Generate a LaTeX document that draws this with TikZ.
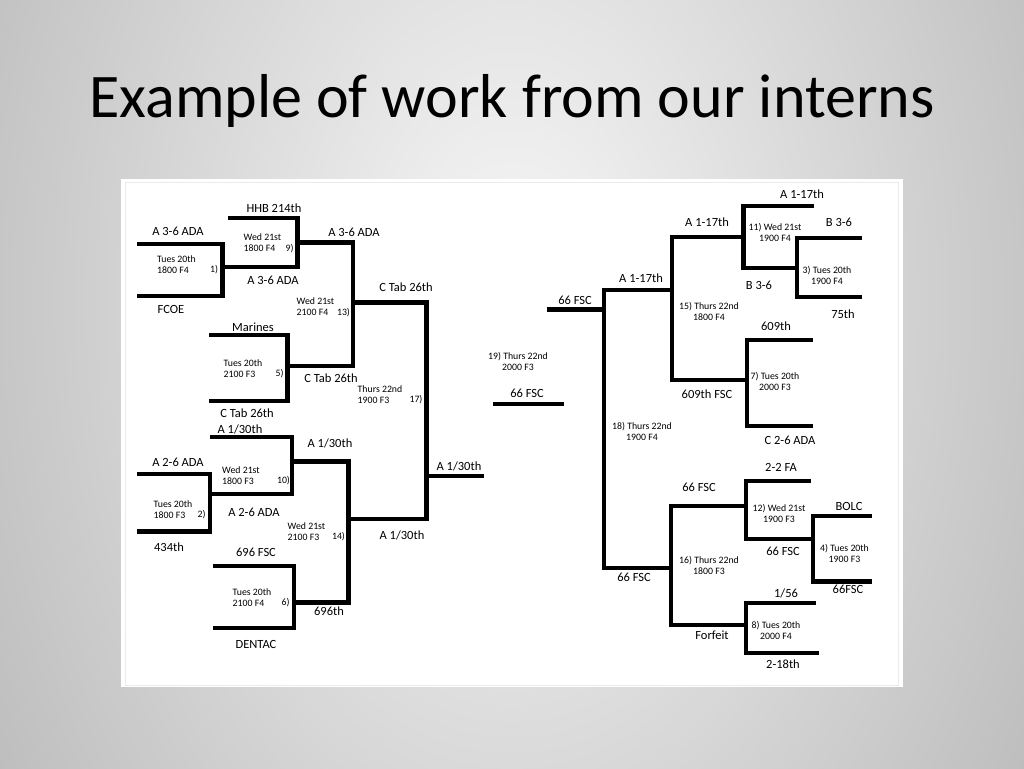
\documentclass[tikz,border=0pt]{standalone}
\usepackage{fontspec}
\setmainfont{Carlito}
\definecolor{bginner}{gray}{0.97}
\definecolor{bgouter}{gray}{0.52}
\pgfdeclareradialshading{slidebg}{\pgfpoint{0bp}{0bp}}{color(0bp)=(bginner); color(50bp)=(bgouter)}

\begin{document}
\begin{tikzpicture}[x=1pt,y=-1pt,bar/.style={line width=4.5pt},team/.style={font=\fontsize{12.5}{15}\selectfont,inner sep=0pt},slot/.style={font=\fontsize{9.8}{11}\selectfont,inner sep=0pt,align=left,anchor=west},slotc/.style={font=\fontsize{9.8}{11}\selectfont,inner sep=0pt,align=center},num/.style={font=\fontsize{9.8}{11}\selectfont,inner sep=0pt}]
 \useasboundingbox (0,0) rectangle (1024,768);
 \fill[bgouter] (0,0) rectangle (1024,768);
 \begin{scope}
  \clip (0,0) rectangle (1024,768);
  \shade[shading=slidebg] (512,300) ellipse (600 and 900);
 \end{scope}
 \node[font=\fontsize{62}{70}\selectfont,anchor=base] (title) at (512,117) {Example of work from our interns};
 \fill[white] (121,179) rectangle (903,687);
 \draw[black!8,line width=.6pt] (125,182) rectangle (898,685);
 % left half
 \draw[bar] (137,244) -| (222.5,296) -- (137,296);
 \draw[bar] (228,218) -| (297.5,267) -- (224,267);
 \draw[bar] (297.5,242.5) -| (353,366) -- (287.5,366);
 \draw[bar] (209,335) -| (287.5,401) -- (209,401);
 \draw[bar] (353,302.5) -| (426.5,519) -- (348.5,519);
 \draw[bar] (426.5,476) -- (484,476);
 \draw[bar] (210,437) -| (292,494) -- (210,494);
 \draw[bar] (137,474) -| (210,531.5) -- (137,531.5);
 \draw[bar] (292,461.5) -| (348.5,602.5) -- (294,602.5);
 \draw[bar] (213,566) -| (294,628) -- (213,628);
 \draw[bar] (493,404) -- (564,404);
 % right half
 \draw[bar] (547,309.5) -- (604,309.5);
 \draw[bar] (672,290) -| (604,568) -- (671,568);
 \draw[bar] (743.5,237) -| (672,380) -- (747,380);
 \draw[bar] (814,206) -| (743.5,268) -- (797,268);
 \draw[bar] (862,238) -| (797,297) -- (862,297);
 \draw[bar] (813,340) -| (747,426) -- (813,426);
 \draw[bar] (745.5,506) -| (671,625) -- (746,625);
 \draw[bar] (811,481) -| (746,539) -- (812,539);
 \draw[bar] (872,516) -| (813,581.5) -- (872,581.5);
 \draw[bar] (816,603) -| (746,653) -- (818.5,653);
 % labels
 \node[team] (ada1) at (178,231) {A 3-6 ADA};
 \node[team] (fcoe) at (171,309) {FCOE};
 \node[slot] (g1) at (157,265) {Tues 20th\\1800 F4};
 \node[num] (n1) at (214,270) {1)};
 \node[team] (hhb) at (274,208) {HHB 214th};
 \node[team] (ada2) at (273,280) {A 3-6 ADA};
 \node[slot] (g9) at (243.5,243) {Wed 21st\\1800 F4};
 \node[num] (n9) at (289.5,249) {9)};
 \node[team] (ada3) at (354,232) {A 3-6 ADA};
 \node[slot] (g13) at (296.5,307) {Wed 21st\\2100 F4};
 \node[num] (n13) at (343.5,312.5) {13)};
 \node[team] (marines) at (253,327) {Marines};
 \node[team] (ctab1) at (247,413) {C Tab 26th};
 \node[slot] (g5) at (223.5,368.5) {Tues 20th\\2100 F3};
 \node[num] (n5) at (279.5,374) {5)};
 \node[team] (ctab2) at (331,378) {C Tab 26th};
 \node[team] (ctab3) at (406,287) {C Tab 26th};
 \node[slot] (g17) at (357.5,394.5) {Thurs 22nd\\1900 F3};
 \node[num] (n17) at (416,400) {17)};
 \node[team] (a130a) at (240,429) {A 1/30th};
 \node[team] (ada4) at (178,462) {A 2-6 ADA};
 \node[slot] (g10) at (222,475.5) {Wed 21st\\1800 F3};
 \node[num] (n10) at (283.5,481) {10)};
 \node[team] (ada5) at (254,512) {A 2-6 ADA};
 \node[slot] (g2) at (153.5,509.5) {Tues 20th\\1800 F3};
 \node[num] (n2) at (201.5,515) {2)};
 \node[team] (t434) at (169,547) {434th};
 \node[team] (a130b) at (330,443) {A 1/30th};
 \node[slot] (g14) at (287.5,531.5) {Wed 21st\\2100 F3};
 \node[num] (n14) at (338.5,537) {14)};
 \node[team] (a130c) at (402,535) {A 1/30th};
 \node[team] (a130d) at (459,466) {A 1/30th};
 \node[team] (fsc696) at (256,552) {696 FSC};
 \node[slot] (g6) at (232.5,597.5) {Tues 20th\\2100 F4};
 \node[num] (n6) at (285.5,603) {6)};
 \node[team] (t696) at (329,611) {696th};
 \node[team] (dentac) at (256,644) {DENTAC};
 \node[slotc] (g19) at (518,361) {19) Thurs 22nd\\2000 F3};
 \node[team] (fsc66a) at (527,393) {66 FSC};
 \node[team] (fsc66b) at (575,300) {66 FSC};
 \node[team] (a117a) at (641,278) {A 1-17th};
 \node[slotc] (g18) at (642,431) {18) Thurs 22nd\\1900 F4};
 \node[team] (fsc66c) at (634,577) {66 FSC};
 \node[team] (a117b) at (707,222) {A 1-17th};
 \node[slotc] (g15) at (709,311) {15) Thurs 22nd\\1800 F4};
 \node[team] (fsc609) at (707,394) {609th FSC};
 \node[team] (a117c) at (802,194) {A 1-17th};
 \node[slotc] (g11) at (775,232.5) {11) Wed 21st\\1900 F4};
 \node[team] (b36a) at (759,285) {B 3-6};
 \node[team] (b36b) at (839,222) {B 3-6};
 \node[slotc] (g3) at (827,275.5) {3) Tues 20th\\1900 F4};
 \node[team] (t75) at (843,314) {75th};
 \node[team] (t609) at (776,326) {609th};
 \node[slotc] (g7) at (775,381) {7) Tues 20th\\2000 F3};
 \node[team] (cada) at (790,440) {C 2-6 ADA};
 \node[team] (fsc66d) at (699,487) {66 FSC};
 \node[slotc] (g16) at (709,565) {16) Thurs 22nd\\1800 F3};
 \node[team] (forfeit) at (712,635) {Forfeit};
 \node[team] (fa22) at (781,467) {2-2 FA};
 \node[slotc] (g12) at (779,513.5) {12) Wed 21st\\1900 F3};
 \node[team] (fsc66e) at (783,551) {66 FSC};
 \node[team] (bolc) at (849,506) {BOLC};
 \node[slotc] (g4) at (844.5,553) {4) Tues 20th\\1900 F3};
 \node[team] (fsc66f) at (848,589) {66FSC};
 \node[team] (t156) at (786,593) {1/56};
 \node[slotc] (g8) at (776,630.5) {8) Tues 20th\\2000 F4};
 \node[team] (t218) at (783,664) {2-18th};
\end{tikzpicture}
\end{document}
